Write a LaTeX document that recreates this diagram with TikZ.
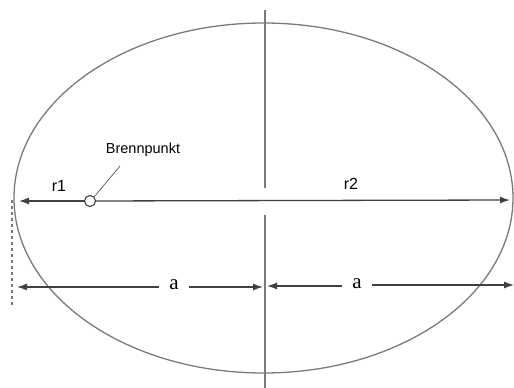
\documentclass[tikz,border=0pt]{standalone}
\usepackage{fontspec}
\setmainfont{Liberation Serif}
\setsansfont{Liberation Sans}
\usepackage{tikz}
\usetikzlibrary{arrows.meta,calc,positioning,shapes.geometric}
\definecolor{Line}{HTML}{7A7A7A}
\definecolor{Ink}{HTML}{404040}

\begin{document}
\begin{tikzpicture}[x=1pt,y=-1pt,>={Latex[length=10pt,width=7pt]},line width=1.3pt]
        \useasboundingbox (0,0) rectangle (514,388);
        \node[draw=Line,ellipse,minimum width=499,minimum height=350,inner sep=0pt] (orbit) at (263.5,198) {};
        \coordinate (top) at (265,10);\coordinate (gtop) at (265,188);
        \coordinate (gbot) at (265,215);\coordinate (bot) at (265,388);
        \draw[Line] (top)--(gtop);\draw[Line] (gbot)--(bot);
        \node[draw=Ink,fill=white,circle,minimum size=11pt,inner sep=0pt,line width=1.1pt] (focus) at (90,201) {};
        \coordinate (rl) at (19,201);\coordinate (rr) at (510,200);
        \draw[Ink,->] (focus)--(rl);\draw[Ink,->] (focus)--(rr);
        \node[font=\sffamily\fontsize{16}{18}\selectfont] (r1) at (59,186) {r1};
        \node[font=\sffamily\fontsize{16}{18}\selectfont] (r2) at (351,184) {r2};
        \node[font=\sffamily\fontsize{14.5}{17}\selectfont] (bp) at (143,150) {Brennpunkt};
        \coordinate (lead) at (120,166);
        \draw[Ink,line width=.6pt] (lead)--(focus.north east);
        \draw[Line,dashed,line width=1.1pt] (12,200)--(12,305);
        \node[fill=white,inner xsep=10pt,font=\fontsize{21}{23}\selectfont] (a1) at (174,285) {a};
        \node[fill=white,inner xsep=10pt,font=\fontsize{21}{23}\selectfont] (a2) at (357,284) {a};
        \coordinate (dl) at (17,287);\coordinate (dm) at (263,287);
        \coordinate (dn) at (267,286);\coordinate (dr) at (514,285);
        \draw[Ink,->] (a1.west|-dl)--(dl);\draw[Ink,->] (a1.east|-dm)--(dm);
        \draw[Ink,->] (a2.west|-dn)--(dn);\draw[Ink,->] (a2.east|-dr)--(dr);
      \end{tikzpicture}
\end{document}
